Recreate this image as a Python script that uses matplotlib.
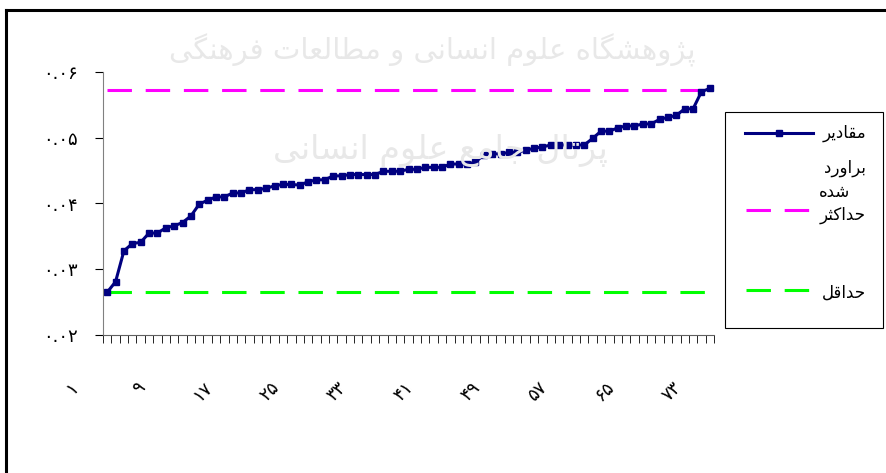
import numpy as np
import matplotlib.pyplot as plt
import matplotlib.transforms as mtransforms
from matplotlib.lines import Line2D
from matplotlib.patches import Rectangle

# estimated values, sorted ascending
estimates = [0.0265, 0.0281, 0.0328, 0.0339, 0.0341, 0.0355, 0.0355, 0.0363, 0.0366, 0.0371,
             0.0381, 0.0399, 0.0405, 0.0410, 0.0410, 0.0416, 0.0416, 0.0421, 0.0421, 0.0423,
             0.0427, 0.0429, 0.0429, 0.0428, 0.0433, 0.0436, 0.0436, 0.0442, 0.0442, 0.0444,
             0.0444, 0.0444, 0.0444, 0.0449, 0.0449, 0.0449, 0.0452, 0.0452, 0.0455, 0.0455,
             0.0455, 0.0460, 0.0460, 0.0460, 0.0463, 0.0474, 0.0476, 0.0475, 0.0478, 0.0478,
             0.0481, 0.0484, 0.0486, 0.0489, 0.0489, 0.0489, 0.0489, 0.0489, 0.0499, 0.0510,
             0.0510, 0.0515, 0.0518, 0.0518, 0.0521, 0.0521, 0.0528, 0.0531, 0.0534, 0.0544,
             0.0544, 0.0570, 0.0575]
max_value = 0.0573
min_value = 0.0265

x_tick_pos = [1, 9, 17, 25, 33, 41, 49, 57, 65, 73]
x_tick_labels = ['۱', '۹', '۱۷', '۲۵', '۳۳', '۴۱', '۴۹', '۵۷', '۶۵', '۷۳']
y_tick_pos = [0.02, 0.03, 0.04, 0.05, 0.06]
y_tick_labels = ['۰.۰۲', '۰.۰۳', '۰.۰۴', '۰.۰۵', '۰.۰۶']

# matplotlib has no arabic joining, so pick presentation forms by hand
def _f(*codes):
    c = [chr(k) for k in codes]
    return tuple(c) if len(c) == 4 else (c[0], c[1], None, None)

FORMS = {
    'ا': _f(0xFE8D, 0xFE8E), 'ب': _f(0xFE8F, 0xFE90, 0xFE91, 0xFE92),
    'پ': _f(0xFB56, 0xFB57, 0xFB58, 0xFB59), 'ت': _f(0xFE95, 0xFE96, 0xFE97, 0xFE98),
    'ث': _f(0xFE99, 0xFE9A, 0xFE9B, 0xFE9C), 'ج': _f(0xFE9D, 0xFE9E, 0xFE9F, 0xFEA0),
    'ح': _f(0xFEA1, 0xFEA2, 0xFEA3, 0xFEA4), 'د': _f(0xFEA9, 0xFEAA),
    'ر': _f(0xFEAD, 0xFEAE), 'ژ': _f(0xFB8A, 0xFB8B),
    'س': _f(0xFEB1, 0xFEB2, 0xFEB3, 0xFEB4), 'ش': _f(0xFEB5, 0xFEB6, 0xFEB7, 0xFEB8),
    'ط': _f(0xFEC1, 0xFEC2, 0xFEC3, 0xFEC4), 'ع': _f(0xFEC9, 0xFECA, 0xFECB, 0xFECC),
    'ف': _f(0xFED1, 0xFED2, 0xFED3, 0xFED4), 'ق': _f(0xFED5, 0xFED6, 0xFED7, 0xFED8),
    'ک': _f(0xFB8E, 0xFB8F, 0xFB90, 0xFB91), 'گ': _f(0xFB92, 0xFB93, 0xFB94, 0xFB95),
    'ل': _f(0xFEDD, 0xFEDE, 0xFEDF, 0xFEE0), 'م': _f(0xFEE1, 0xFEE2, 0xFEE3, 0xFEE4),
    'ن': _f(0xFEE5, 0xFEE6, 0xFEE7, 0xFEE8), 'ه': _f(0xFEE9, 0xFEEA, 0xFEEB, 0xFEEC),
    'و': _f(0xFEED, 0xFEEE), 'ی': _f(0xFBFC, 0xFBFD, 0xFBFE, 0xFBFF),
}

def shape(text):
    out = []
    for i, ch in enumerate(text):
        if ch not in FORMS:
            out.append(ch)
            continue
        iso, fin, ini, med = FORMS[ch]
        prev = text[i - 1] if i > 0 else ''
        nxt = text[i + 1] if i < len(text) - 1 else ''
        jp = prev in FORMS and FORMS[prev][2] is not None
        jn = ini is not None and nxt in FORMS
        if jp and jn:
            out.append(med)
        elif jp:
            out.append(fin)
        elif jn:
            out.append(ini)
        else:
            out.append(iso)
    return ''.join(reversed(out))

W, H = 886, 473
fig = plt.figure(figsize=(8.86, 4.73), dpi=100)

def P(x, y):
    return x / W, 1 - y / H

# faint watermark behind the chart
fig.text(*P(432, 50), shape('پژوهشگاه علوم انسانی و مطالعات فرهنگی'), ha='center', va='center',
         fontsize=21, color='#e8e8e8', zorder=0)
fig.text(*P(440, 150), shape('پرتال جامع علوم انسانی'), ha='center', va='center',
         fontsize=24, color='#e8e8e8', zorder=0)

ax = fig.add_axes([103 / W, 1 - 335 / H, 611 / W, 263 / H])
ax.patch.set_alpha(0)

x = np.arange(1, len(estimates) + 1)
ax.plot(x, [max_value] * len(x), color='#ff00ff', lw=2.2, dashes=(8, 4.5))
ax.plot(x, [min_value] * len(x), color='#00ff00', lw=2.2, dashes=(8, 4.5))
ax.plot(x, estimates, color='#000080', lw=2.2, marker='s', ms=5)

ax.set_xlim(0.5, len(x) + 0.5)
ax.set_ylim(0.02, 0.06)
for s in ['top', 'right']:
    ax.spines[s].set_visible(False)
ax.spines['left'].set_color('#808080')
ax.spines['bottom'].set_color('#606060')

ax.set_yticks(y_tick_pos)
ax.set_yticklabels(y_tick_labels, fontsize=13)
ax.tick_params(axis='y', length=6, color='black', pad=12)

ax.set_xticks(x_tick_pos)
ax.set_xticklabels(x_tick_labels, fontsize=13, rotation=45, ha='right', va='top')
ax.set_xticks(np.arange(0.5, len(x) + 1), minor=True)
ax.tick_params(axis='x', which='major', length=0, pad=31)
ax.tick_params(axis='x', which='minor', length=6, color='black')
shift = mtransforms.ScaledTranslation(-25 / 100, 0, fig.dpi_scale_trans)
for lab in ax.get_xticklabels():
    lab.set_transform(lab.get_transform() + shift)

# legend box
fig.patches.append(Rectangle(P(725, 328), 158 / W, 216 / H, transform=fig.transFigure,
                             fill=False, edgecolor='black', lw=0.8))
fig.lines.append(Line2D([P(745, 0)[0], P(813, 0)[0]], [P(0, 133)[1]] * 2, transform=fig.transFigure,
                        color='#000080', lw=2.2))
fig.lines.append(Line2D([P(779, 0)[0]], [P(0, 133)[1]], transform=fig.transFigure,
                        color='#000080', marker='s', ms=5, lw=0))
fig.lines.append(Line2D([P(746, 0)[0], P(812, 0)[0]], [P(0, 210)[1]] * 2, transform=fig.transFigure,
                        color='#ff00ff', lw=2.2, dashes=(8, 4.5)))
fig.lines.append(Line2D([P(746, 0)[0], P(812, 0)[0]], [P(0, 290)[1]] * 2, transform=fig.transFigure,
                        color='#00ff00', lw=2.2, dashes=(8, 4.5)))
fig.text(*P(866, 133), shape('مقادیر'), ha='right', va='center', fontsize=12)
fig.text(*P(866, 168), shape('براورد'), ha='right', va='center', fontsize=12)
fig.text(*P(850, 192), shape('شده'), ha='right', va='center', fontsize=12)
fig.text(*P(866, 215), shape('حداکثر'), ha='right', va='center', fontsize=12)
fig.text(*P(866, 293), shape('حداقل'), ha='right', va='center', fontsize=12)

# outer frame
fig.lines.append(Line2D([6 / W, 6 / W], [1 - 10 / H, 0], transform=fig.transFigure, color='black', lw=2.2))
fig.lines.append(Line2D([6 / W, 1], [1 - 10 / H, 1 - 10 / H], transform=fig.transFigure, color='black', lw=2.2))

fig.savefig('out.png', dpi=100)
